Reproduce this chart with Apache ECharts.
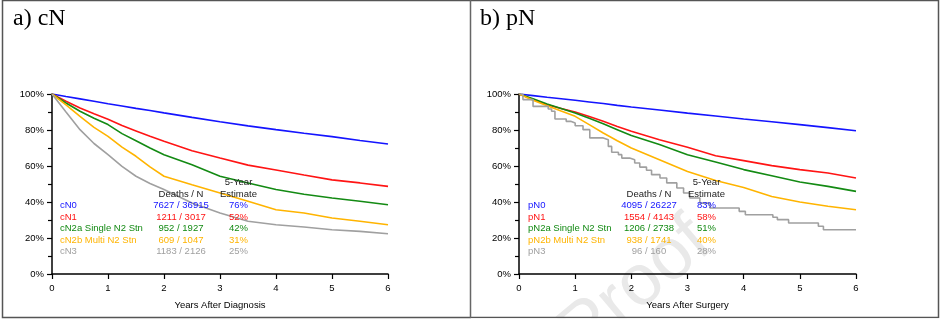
<!DOCTYPE html>
<html>
<head>
<meta charset="utf-8">
<script src="https://cdn.jsdelivr.net/npm/echarts@6/dist/echarts.min.js"></script>
<style>
  html, body { margin: 0; padding: 0; background: #fff; }
  #chart { width: 941px; height: 321px; }
</style>
</head>
<body>
<div id="chart"></div>
<script>
// Survival time grid (years) shared by the large-group curves
var years = [0, 0.25, 0.5, 0.75, 1, 1.25, 1.5, 1.75, 2, 2.5, 3, 3.5, 4, 4.5, 5, 5.5, 6];

// a) clinical N stage, survival %
var cN0  = [100, 98.6, 97.3, 96.0, 94.6, 93.3, 92.0, 90.8, 89.5, 87.0, 84.6, 82.3, 80.2, 78.2, 76.3, 74.2, 72.2];
var cN1  = [100, 96.0, 92.2, 89.0, 86.0, 82.5, 79.5, 76.5, 73.7, 68.5, 64.4, 60.5, 57.8, 55.0, 52.3, 50.6, 48.7];
var cN2a = [100, 95.0, 90.4, 86.5, 83.0, 78.0, 74.0, 70.0, 66.3, 60.7, 54.3, 50.6, 46.9, 44.3, 42.2, 40.4, 38.5];
var cN2b = [100, 94.0, 87.6, 81.5, 76.5, 70.5, 65.4, 59.5, 54.3, 49.6, 45.0, 40.4, 35.7, 33.9, 31.1, 29.3, 27.4];
var cN3  = [100, 90.0, 80.2, 72.5, 66.3, 59.8, 54.3, 50.3, 46.9, 39.4, 33.9, 29.3, 27.4, 26.1, 24.6, 23.7, 22.4];

// b) pathologic N stage, survival %
var pN0  = [100, 99.1, 98.2, 97.4, 96.5, 95.6, 94.7, 93.7, 92.8, 91.1, 89.4, 87.8, 86.1, 84.6, 83.0, 81.3, 79.6];
var pN1  = [100, 97.0, 94.0, 92.0, 90.0, 87.5, 84.8, 82.0, 79.3, 74.6, 70.4, 65.7, 63.0, 60.2, 58.0, 56.1, 53.3];
var pN2a = [100, 97.3, 94.4, 92.0, 89.4, 86.5, 83.5, 80.2, 76.9, 71.9, 66.3, 62.2, 58.0, 54.6, 51.1, 48.7, 45.9];
var pN2b = [100, 96.5, 93.5, 90.5, 87.6, 83.0, 78.3, 74.0, 70.0, 63.5, 57.0, 51.9, 48.1, 43.1, 40.0, 37.6, 35.7];
// pN3 is a small group: its Kaplan-Meier steps are kept as [year, survival %]
var pN3Steps = [[0,100],[0.07,96.9],[0.25,93.1],[0.52,91.7],[0.58,90.4],[0.64,86.1],[0.84,84.8],
  [0.92,83.9],[1.0,82.4],[1.14,80.2],[1.26,75.6],[1.5,74.6],[1.59,70.9],[1.65,67.6],[1.77,66.3],
  [1.83,64.4],[1.97,63.5],[2.06,61.7],[2.15,59.4],[2.27,57.6],[2.36,55.2],[2.51,53.3],[2.63,50.6],
  [2.81,47.8],[2.93,45.0],[3.04,42.2],[3.22,39.4],[3.40,36.7],[3.92,34.8],[4.03,32.9],[4.52,31.5],
  [4.6,30.2],[4.8,28.3],[5.33,26.5],[5.42,24.6],[6,24.6]];

// Legend table rows: label, deaths / N, 5-year estimate
var cLabels = ['cN0', 'cN1', 'cN2a Single N2 Stn', 'cN2b Multi N2 Stn', 'cN3'];
var cDeathsN = ['7627 / 36915', '1211 / 3017', '952 / 1927', '609 / 1047', '1183 / 2126'];
var cFiveYear = ['76%', '52%', '42%', '31%', '25%'];
var pLabels = ['pN0', 'pN1', 'pN2a Single N2 Stn', 'pN2b Multi N2 Stn', 'pN3'];
var pDeathsN = ['4095 / 26227', '1554 / 4143', '1206 / 2738', '938 / 1741', '96 / 160'];
var pFiveYear = ['83%', '58%', '51%', '40%', '28%'];

var xTicks = [0, 1, 2, 3, 4, 5, 6];
var yTicks = [0, 20, 40, 60, 80, 100];

var colors = ['#1414ff', '#ff1414', '#138a13', '#ffb400', '#a0a0a0'];
var FONT = '"Liberation Sans", Arial, sans-serif';
var SERIF = '"Liberation Serif", "Times New Roman", serif';

function pairs(xs, ys) {
  return xs.map(function (x, i) { return [x, ys[i]]; });
}

function curve(name, gridIdx, data, color, step) {
  return {
    type: 'line', name: name, xAxisIndex: gridIdx, yAxisIndex: gridIdx,
    data: data, step: step ? 'end' : false, symbol: 'none', smooth: false,
    lineStyle: { color: color, width: 1.6 }, z: 3, animation: false
  };
}

function xAxis(gridIdx, title) {
  return {
    type: 'value', gridIndex: gridIdx, min: xTicks[0], max: xTicks[xTicks.length - 1], interval: 1,
    name: title, nameLocation: 'middle', nameGap: 26,
    nameTextStyle: { fontFamily: FONT, fontSize: 9.5, color: '#000' },
    axisLine: { lineStyle: { color: '#000', width: 1.5 } },
    axisTick: { show: true, length: 5, lineStyle: { color: '#000', width: 1.2 } },
    axisLabel: { fontFamily: FONT, fontSize: 9.5, color: '#000', margin: 9 },
    splitLine: { show: false }
  };
}

function yAxis(gridIdx) {
  return {
    type: 'value', gridIndex: gridIdx, min: yTicks[0], max: yTicks[yTicks.length - 1], interval: 20,
    axisLine: { show: true, lineStyle: { color: '#000', width: 1.5 } },
    axisTick: { show: true, length: 5, lineStyle: { color: '#000', width: 1.2 } },
    minorTick: { show: true, splitNumber: 2, length: 4, lineStyle: { color: '#000', width: 1.2 } },
    axisLabel: { fontFamily: FONT, fontSize: 9.5, color: '#000', margin: 8, formatter: '{value}%' },
    splitLine: { show: false }
  };
}

// Legend table drawn as text inside each plot
function tableText(x0, colDeaths, colEst, labels, deaths, est) {
  var items = [];
  var rowY = [205.5, 217, 228.5, 240, 251.5];
  var base = { fontFamily: FONT, fontSize: 9.5 };
  function t(x, y, text, fill, align) {
    items.push({ type: 'text', x: x, y: y, z: 10,
      style: Object.assign({ text: text, fill: fill, align: align, verticalAlign: 'middle' }, base) });
  }
  t(colDeaths, 194, 'Deaths / N', '#222', 'center');
  t(colEst, 182.5, '5-Year', '#222', 'center');
  t(colEst, 194, 'Estimate', '#222', 'center');
  labels.forEach(function (lab, i) {
    t(x0, rowY[i], lab, colors[i], 'left');
    t(colDeaths, rowY[i], deaths[i], colors[i], 'center');
    t(colEst, rowY[i], est[i], colors[i], 'center');
  });
  return items;
}

var graphics = [
  { type: 'rect', shape: { x: 2.5, y: 0.5, width: 936, height: 317 }, style: { fill: 'none', stroke: '#555', lineWidth: 1.5 }, z: 1 },
  { type: 'line', shape: { x1: 470.5, y1: 0, x2: 470.5, y2: 318 }, style: { stroke: '#666', lineWidth: 1.5 }, z: 1 },
  // faint "Proof" watermark in the lower right panel
  { type: 'text', x: 636, y: 288, rotation: 0.70, z: 0,
    style: { text: 'Proof', fontFamily: FONT, fontSize: 72, fill: '#e9e9e9', align: 'center', verticalAlign: 'middle' } },
  { type: 'text', x: 13, y: 18.5, style: { text: 'a) cN', fontFamily: SERIF, fontSize: 24, fill: '#000', verticalAlign: 'middle' }, z: 10 },
  { type: 'text', x: 480, y: 18.5, style: { text: 'b) pN', fontFamily: SERIF, fontSize: 24, fill: '#000', verticalAlign: 'middle' }, z: 10 },
  // panel frame: cover the watermark beyond the bottom border
  { type: 'rect', shape: { x: 471, y: 318.3, width: 470, height: 3 }, style: { fill: '#fff' }, z: 2 }
].concat(tableText(60, 181, 238.5, cLabels, cDeathsN, cFiveYear))
 .concat(tableText(528, 649, 706.5, pLabels, pDeathsN, pFiveYear));

var option = {
  backgroundColor: '#fff',
  animation: false,
  grid: [
    { left: 52, right: 553, top: 94, bottom: 47 },
    { left: 519, right: 85, top: 94, bottom: 47 }
  ],
  xAxis: [xAxis(0, 'Years After Diagnosis'), xAxis(1, 'Years After Surgery')],
  yAxis: [yAxis(0), yAxis(1)],
  series: [
    curve('cN0', 0, pairs(years, cN0), colors[0]),
    curve('cN1', 0, pairs(years, cN1), colors[1]),
    curve('cN2a', 0, pairs(years, cN2a), colors[2]),
    curve('cN2b', 0, pairs(years, cN2b), colors[3]),
    curve('cN3', 0, pairs(years, cN3), colors[4]),
    curve('pN0', 1, pairs(years, pN0), colors[0]),
    curve('pN1', 1, pairs(years, pN1), colors[1]),
    curve('pN2a', 1, pairs(years, pN2a), colors[2]),
    curve('pN2b', 1, pairs(years, pN2b), colors[3]),
    curve('pN3', 1, pN3Steps, colors[4], true)
  ],
  graphic: graphics
};

var chart = echarts.init(document.getElementById('chart'), null, { renderer: 'canvas' });
chart.setOption(option);
</script>
</body>
</html>
